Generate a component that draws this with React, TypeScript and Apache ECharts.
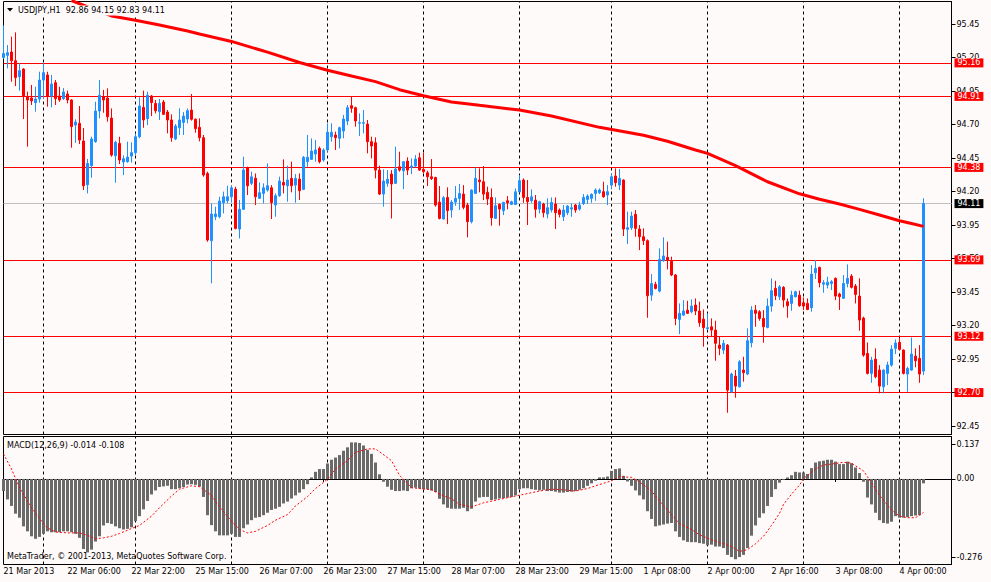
import React, { useEffect, useRef } from "react";
import * as echarts from "echarts";

// ---------- data ----------
const SYMBOL = "USDJPY,H1";
const YEAR = "2013";
const COPYRIGHT = "MetaTrader, © 2001-2013, MetaQuotes Software Corp.";
const MACD_PARAMS = "12,26,9";

// trading sessions: [day, first hour, last hour] (last day padded with empty future bars)
const SESSIONS: [string, number, number][] = [
  ["21 Mar", 14, 23], ["22 Mar", 0, 22], ["25 Mar", 0, 23], ["26 Mar", 0, 23],
  ["27 Mar", 0, 23], ["28 Mar", 0, 23], ["29 Mar", 0, 22], ["1 Apr", 0, 23],
  ["2 Apr", 0, 23], ["3 Apr", 0, 23], ["4 Apr", 0, 13],
];

// [open, high, low, close]
const CANDLES: [number, number, number, number][] = [
  [95.20,95.44,95.19,95.23],[95.216,95.293,95.119,95.236],[95.241,95.356,95.02,95.176],[95.176,95.388,94.987,95.05],[95.057,95.157,94.953,95.102],
  [95.114,95.12,94.741,94.913],[94.908,94.945,94.535,94.883],[94.898,94.995,94.846,94.876],[94.863,94.982,94.796,94.89],[94.89,95.094,94.863,95.032],
  [95.032,95.162,94.895,95.087],[95.07,95.094,94.833,94.913],[94.913,95.07,94.828,95.002],[95.012,95.032,94.846,94.893],[94.913,94.982,94.87,94.883],
  [94.893,94.972,94.883,94.943],[94.928,94.953,94.858,94.883],[94.883,94.888,94.527,94.684],[94.696,94.739,94.564,94.719],[94.709,94.838,94.554,94.584],
  [94.577,94.674,94.211,94.243],[94.251,94.443,94.186,94.41],[94.393,94.609,94.303,94.592],[94.572,94.87,94.564,94.801],[94.801,95.032,94.746,94.918],
  [94.908,94.958,94.788,94.883],[94.898,94.97,94.721,94.758],[94.748,94.82,94.46,94.472],[94.467,94.579,94.266,94.567],[94.559,94.609,94.405,94.435],
  [94.42,94.47,94.323,94.445],[94.423,94.572,94.415,94.457],[94.465,94.567,94.415,94.49],[94.49,94.634,94.472,94.609],[94.609,94.903,94.597,94.838],
  [94.828,94.953,94.676,94.734],[94.744,94.945,94.696,94.918],[94.913,94.92,94.763,94.863],[94.858,94.883,94.783,94.803],[94.796,94.89,94.734,94.858],
  [94.868,94.883,94.771,94.776],[94.793,94.808,94.634,94.734],[94.734,94.776,94.572,94.602],[94.592,94.704,94.584,94.689],[94.676,94.821,94.622,94.734],
  [94.716,94.793,94.622,94.763],[94.741,94.82,94.709,94.803],[94.808,94.928,94.729,94.739],[94.739,94.746,94.639,94.669],[94.679,94.746,94.574,94.602],
  [94.602,94.622,94.31,94.323],[94.335,94.348,93.825,93.838],[93.833,94.112,93.515,94.032],[94.012,94.087,93.987,94.032],[94.012,94.161,94.0,94.129],
  [94.117,94.199,94.037,94.161],[94.131,94.243,94.112,94.161],[94.161,94.241,94.117,94.228],[94.218,94.236,93.917,93.925],[93.92,94.137,93.85,94.067],
  [94.067,94.46,94.062,94.36],[94.38,94.385,94.174,94.243],[94.261,94.348,94.248,94.31],[94.3,94.335,94.099,94.161],[94.149,94.268,94.144,94.191],
  [94.186,94.261,94.112,94.228],[94.211,94.41,94.199,94.243],[94.228,94.248,93.995,94.117],[94.099,94.186,94.012,94.169],[94.169,94.311,94.161,94.278],
  [94.268,94.44,94.186,94.248],[94.243,94.393,94.124,94.286],[94.298,94.423,94.194,94.243],[94.248,94.33,94.117,94.298],[94.293,94.335,94.137,94.206],
  [94.216,94.465,94.211,94.455],[94.423,94.622,94.385,94.455],[94.44,94.597,94.435,94.502],[94.48,94.584,94.423,94.51],[94.522,94.535,94.41,94.423],
  [94.435,94.522,94.423,94.51],[94.51,94.709,94.497,94.642],[94.609,94.709,94.572,94.642],[94.622,94.647,94.51,94.602],[94.597,94.684,94.522,94.676],
  [94.651,94.771,94.597,94.741],[94.726,94.846,94.696,94.826],[94.841,94.908,94.788,94.821],[94.826,94.833,94.684,94.726],[94.71,94.783,94.614,94.714],
  [94.71,94.808,94.634,94.714],[94.704,94.734,94.485,94.572],[94.572,94.609,94.447,94.54],[94.564,94.604,94.298,94.36],[94.36,94.393,94.174,94.181],
  [94.181,94.365,94.087,94.278],[94.261,94.36,94.236,94.291],[94.33,94.36,93.999,94.256],[94.261,94.535,94.256,94.368],[94.385,94.497,94.348,94.36],
  [94.355,94.427,94.218,94.422],[94.427,94.455,94.323,94.36],[94.38,94.447,94.33,94.39],[94.39,94.472,94.38,94.442],[94.452,94.49,94.355,94.36],
  [94.365,94.49,94.335,94.348],[94.34,94.355,94.241,94.31],[94.31,94.442,94.286,94.296],[94.305,94.31,94.087,94.099],[94.121,94.241,93.992,93.999],
  [93.995,94.166,93.992,94.154],[94.156,94.231,93.957,94.057],[94.062,94.136,94.005,94.121],[94.121,94.241,94.094,94.149],[94.149,94.256,94.062,94.186],
  [94.181,94.248,94.067,94.082],[94.099,94.116,93.858,93.975],[93.975,94.216,93.962,94.211],[94.186,94.38,94.181,94.298],[94.286,94.373,94.194,94.273],
  [94.273,94.39,94.136,94.181],[94.194,94.236,94.099,94.144],[94.156,94.223,93.945,94.004],[94.0,94.156,93.997,94.094],[94.104,94.111,93.945,94.069],
  [94.057,94.124,94.024,94.119],[94.131,94.166,94.067,94.116],[94.104,94.131,94.099,94.124],[94.104,94.223,94.099,94.198],[94.198,94.323,94.194,94.281],
  [94.286,94.298,94.116,94.156],[94.156,94.286,93.95,94.124],[94.131,94.216,94.116,94.161],[94.136,94.174,94.005,94.067],[94.069,94.131,94.037,94.124],
  [94.107,94.116,94.007,94.042],[94.032,94.149,94.0,94.079],[94.062,94.156,94.044,94.119],[94.107,94.156,93.92,94.042],[94.062,94.074,94.007,94.03],
  [94.012,94.099,93.98,94.062],[94.042,94.099,94.024,94.092],[94.069,94.111,94.012,94.079],[94.099,94.107,94.042,94.062],[94.069,94.124,94.057,94.099],
  [94.111,94.181,94.099,94.156],[94.141,94.179,94.107,94.166],[94.149,94.186,94.116,94.179],[94.186,94.223,94.131,94.211],[94.191,94.223,94.181,94.211],
  [94.199,94.273,94.154,94.161],[94.174,94.248,94.099,94.199],[94.248,94.335,94.216,94.31],[94.316,94.373,94.236,94.266],[94.248,94.368,94.211,94.298],
  [94.286,94.291,93.868,93.92],[93.918,94.05,93.808,93.93],[93.93,94.05,93.913,94.017],[94.03,94.062,93.863,93.925],[93.92,93.95,93.763,93.863],
  [93.863,93.925,93.801,93.833],[93.833,93.843,93.258,93.422],[93.427,93.584,93.385,93.514],[93.507,93.527,93.47,93.477],[93.457,93.776,93.447,93.694],
  [93.684,93.858,93.676,93.719],[93.709,93.826,93.619,93.689],[93.681,93.714,93.569,93.577],[93.577,93.584,93.203,93.253],[93.246,93.365,93.136,93.291],
  [93.278,93.39,93.271,93.308],[93.315,93.385,93.286,93.291],[93.303,93.395,93.291,93.345],[93.353,93.402,93.278,93.308],[93.308,93.378,93.191,93.221],
  [93.248,93.32,93.042,93.184],[93.176,93.291,93.166,93.184],[93.191,93.253,93.116,93.166],[93.166,93.236,92.937,93.067],[93.054,93.116,92.979,93.03],
  [93.017,93.092,92.987,93.067],[93.054,93.062,92.549,92.718],[92.706,92.848,92.699,92.838],[92.823,92.868,92.661,92.748],[92.743,92.942,92.738,92.93],
  [92.868,92.967,92.781,92.848],[92.838,93.179,92.83,93.087],[93.072,93.345,93.037,93.315],[93.315,93.353,93.191,93.291],[93.303,93.315,93.236,93.253],
  [93.253,93.315,93.072,93.191],[93.186,93.402,93.179,93.345],[93.345,93.552,93.303,93.46],[93.477,93.534,93.39,93.422],[93.415,93.502,93.39,93.489],
  [93.485,93.494,93.335,93.39],[93.378,93.402,93.258,93.348],[93.365,93.46,93.31,93.427],[93.415,93.46,93.41,93.452],[93.427,93.46,93.34,93.348],
  [93.37,93.41,93.315,93.345],[93.365,93.402,93.315,93.32],[93.333,93.651,93.303,93.584],[93.594,93.689,93.547,93.626],[93.634,93.639,93.485,93.52],
  [93.509,93.539,93.445,93.52],[93.502,93.564,93.477,93.524],[93.514,93.539,93.465,93.527],[93.552,93.559,93.39,93.42],[93.435,93.445,93.316,93.415],
  [93.403,93.577,93.398,93.514],[93.514,93.656,93.485,93.552],[93.569,93.584,93.477,93.485],[93.495,93.51,93.365,93.432],[93.42,93.552,93.161,93.241],
  [93.256,93.266,92.967,92.979],[92.992,93.074,92.835,92.843],[92.843,92.967,92.773,92.942],[92.95,93.03,92.806,92.818],[92.868,92.905,92.694,92.748],
  [92.743,92.873,92.694,92.868],[92.843,92.93,92.756,92.905],[92.905,93.054,92.893,93.024],[93.03,93.097,92.987,93.07],[93.074,93.104,93.017,93.022],
  [93.017,93.022,92.835,92.843],[92.838,92.893,92.706,92.88],[92.868,93.111,92.863,92.987],[92.972,93.03,92.888,92.937],[92.955,93.054,92.773,92.838],
  [92.86,94.15,92.83,94.11],
];

// moving average: [bar index, value]
const MA_POINTS: [number, number][] = [
  [17, 95.625], [20, 95.59], [27, 95.51], [33, 95.478], [39, 95.443], [46, 95.398], [49, 95.375],
  [57, 95.32], [66, 95.24], [74, 95.163], [81, 95.105], [87, 95.062], [93, 95.02], [99, 94.96],
  [105, 94.915], [112, 94.868], [119, 94.843], [129, 94.808], [137, 94.763], [149, 94.679],
  [160, 94.62], [166, 94.575], [173, 94.51], [176, 94.485], [183, 94.393], [191, 94.273],
  [199, 94.183], [204, 94.142], [209, 94.107], [214, 94.067], [219, 94.025], [224, 93.982],
  [227, 93.962], [230, 93.94],
];

const H_LINES = [95.16, 94.91, 94.38, 93.69, 93.12, 92.70];
const BID_LINE = 94.11;
const PRICE_TICKS = [92.45, 92.70, 92.95, 93.20, 93.45, 93.70, 93.95, 94.20, 94.45, 94.70, 94.95, 95.20, 95.45];
const PRICE_MIN = 92.387;
const PRICE_MAX = 95.618;

const MACD_HIST = [
  -0.039,-0.066,-0.087,-0.112,-0.125,-0.153,-0.169,-0.185,-0.193,-0.187,
  -0.177,-0.169,-0.172,-0.172,-0.172,-0.169,-0.169,-0.172,-0.177,-0.190,
  -0.226,-0.237,-0.228,-0.202,-0.185,-0.150,-0.142,-0.145,-0.153,-0.159,
  -0.163,-0.161,-0.156,-0.136,-0.120,-0.098,-0.071,-0.050,-0.037,-0.026,
  -0.024,-0.022,-0.033,-0.033,-0.030,-0.026,-0.018,-0.017,-0.019,-0.025,
  -0.058,-0.117,-0.149,-0.169,-0.182,-0.182,-0.182,-0.177,-0.187,-0.187,
  -0.159,-0.147,-0.133,-0.125,-0.123,-0.117,-0.109,-0.100,-0.096,-0.090,
  -0.079,-0.073,-0.063,-0.053,-0.044,-0.033,-0.017,0.005,0.023,0.032,
  0.032,0.050,0.062,0.069,0.077,0.091,0.102,0.118,0.118,0.116,
  0.108,0.094,0.081,0.053,0.015,-0.009,-0.025,-0.035,-0.039,-0.039,
  -0.037,-0.039,-0.030,-0.028,-0.031,-0.033,-0.033,-0.037,-0.042,-0.064,
  -0.082,-0.093,-0.096,-0.096,-0.096,-0.093,-0.104,-0.096,-0.073,-0.060,
  -0.058,-0.058,-0.068,-0.066,-0.063,-0.062,-0.060,-0.058,-0.053,-0.033,
  -0.030,-0.030,-0.033,-0.035,-0.037,-0.035,-0.039,-0.039,-0.041,-0.044,
  -0.044,-0.042,-0.041,-0.039,-0.035,-0.030,-0.022,-0.014,-0.006,0.005,
  0.005,0.008,0.026,0.032,0.034,0.010,-0.008,-0.022,-0.037,-0.053,
  -0.066,-0.104,-0.129,-0.153,-0.150,-0.147,-0.144,-0.142,-0.169,-0.187,
  -0.198,-0.203,-0.204,-0.204,-0.207,-0.209,-0.214,-0.212,-0.218,-0.218,
  -0.223,-0.245,-0.252,-0.259,-0.252,-0.245,-0.223,-0.183,-0.150,-0.125,
  -0.111,-0.087,-0.058,-0.033,-0.012,-0.003,0.005,0.012,0.023,0.021,
  0.021,0.016,0.035,0.053,0.057,0.059,0.062,0.062,0.056,0.048,
  0.048,0.056,0.051,0.037,0.019,-0.009,-0.060,-0.082,-0.109,-0.133,
  -0.142,-0.144,-0.138,-0.120,-0.125,-0.125,-0.123,-0.120,-0.118,-0.117,
  -0.014,
];

// signal line: [bar index, value]
const MACD_SIGNAL: [number, number][] = [
  [0,0.081],[2,0.032],[4,-0.028],[6,-0.071],[8,-0.111],[10,-0.144],[11,-0.158],[13,-0.171],
  [16,-0.174],[19,-0.174],[21,-0.182],[23,-0.193],[25,-0.190],[27,-0.185],[29,-0.176],
  [32,-0.160],[34,-0.150],[37,-0.120],[39,-0.093],[42,-0.055],[44,-0.033],[47,-0.022],
  [49,-0.025],[52,-0.053],[54,-0.090],[57,-0.136],[59,-0.163],[61,-0.174],[63,-0.169],
  [66,-0.150],[68,-0.133],[71,-0.115],[73,-0.087],[76,-0.057],[78,-0.031],[81,-0.001],
  [83,0.032],[86,0.059],[88,0.086],[91,0.097],[93,0.097],[94,0.088],[97,0.059],[99,0.012],
  [102,-0.028],[104,-0.031],[107,-0.035],[109,-0.049],[112,-0.064],[114,-0.082],[117,-0.090],
  [120,-0.077],[124,-0.066],[128,-0.055],[131,-0.047],[134,-0.039],[137,-0.033],[140,-0.035],
  [143,-0.039],[146,-0.031],[148,-0.022],[152,-0.006],[154,0.008],[157,0.005],[159,-0.009],
  [162,-0.039],[164,-0.071],[167,-0.115],[169,-0.144],[172,-0.163],[174,-0.180],[177,-0.196],
  [179,-0.205],[182,-0.218],[184,-0.234],[186,-0.228],[188,-0.209],[190,-0.185],[192,-0.150],
  [194,-0.111],[195,-0.082],[197,-0.049],[199,-0.020],[200,0.001],[203,0.032],[205,0.045],
  [207,0.048],[210,0.054],[212,0.051],[215,0.026],[217,-0.012],[219,-0.053],[222,-0.100],
  [224,-0.120],[226,-0.125],[228,-0.125],[230,-0.108],
];
const MACD_MIN = -0.276;
const MACD_MAX = 0.137;

// ---------- derived ----------
const CATEGORIES: string[] = [];
const HOURS: number[] = [];
SESSIONS.forEach(([day, h0, h1]) => {
  for (let h = h0; h <= h1; h++) {
    CATEGORIES.push(`${day} ${String(h).padStart(2, "0")}:00`);
    HOURS.push(h);
  }
});
const DAY_STARTS = CATEGORIES.filter((_, i) => i > 0 && HOURS[i] === 0);
const LABEL_EVERY = 16;

const FONT = "DejaVu Sans";
const FS = 8;
const BG = "#FFFAFA";
const BULL = "#1E90FF";
const BEAR = "#FF0000";

const last = CANDLES[CANDLES.length - 1];
const titleText = `${SYMBOL}  ${last[0].toFixed(2)} ${last[1].toFixed(2)} ${last[2].toFixed(2)} ${last[3].toFixed(2)}`;
const macdText = `MACD(${MACD_PARAMS}) ${MACD_HIST[MACD_HIST.length - 1].toFixed(3)} ${MACD_SIGNAL[MACD_SIGNAL.length - 1][1].toFixed(3)}`;

const GRID_LEFT = 3.5;
const GRID_W = 948;
const MAIN_TOP = 1.5;
const MAIN_H = 433;
const MACD_TOP = 436.5;
const MACD_H = 128;
const MACD_INSET = ((MACD_MAX - MACD_MIN) * 7.5) / MACD_H;
const MACD_TICKS = [MACD_MAX - MACD_INSET, 0, MACD_MIN + MACD_INSET];

const vLines = DAY_STARTS.map((c) => ({
  xAxis: c,
  lineStyle: { color: "#000", width: 1, type: [3, 3] as any },
  label: { show: false },
}));

const priceLabel = (bg: string) => ({
  show: true,
  position: "end" as const,
  formatter: (p: any) => Number(p.value).toFixed(2),
  color: "#FFFFFF",
  backgroundColor: bg,
  padding: [1, 3, 0, 3],
  fontFamily: FONT,
  fontSize: FS,
  distance: 3,
});

const hLines = [
  ...H_LINES.map((v) => ({
    yAxis: v,
    lineStyle: { color: "#FF0000", width: 1, type: "solid" as const },
    label: priceLabel("#FF0000"),
  })),
  {
    yAxis: BID_LINE,
    lineStyle: { color: "#C0C0C0", width: 1, type: "solid" as const },
    label: priceLabel("#000000"),
  },
];

const option: any = {
  animation: false,
  backgroundColor: BG,
  textStyle: { fontFamily: FONT },
  grid: [
    { left: GRID_LEFT, top: MAIN_TOP, width: GRID_W, height: MAIN_H, show: true, borderColor: "#000", borderWidth: 1, backgroundColor: BG },
    { left: GRID_LEFT, top: MACD_TOP, width: GRID_W, height: MACD_H, show: true, borderColor: "#000", borderWidth: 1, backgroundColor: BG },
  ],
  xAxis: [
    {
      type: "category", gridIndex: 0, data: CATEGORIES, boundaryGap: false,
      axisLine: { show: false }, axisTick: { show: false }, axisLabel: { show: false }, splitLine: { show: false },
    },
    {
      type: "category", gridIndex: 1, data: CATEGORIES, boundaryGap: false,
      axisLine: { show: true, lineStyle: { color: "#000", width: 1 } },
      axisTick: { show: true, length: 3, interval: (i: number) => i % LABEL_EVERY === 0, lineStyle: { color: "#000" } },
      axisLabel: {
        show: true,
        interval: (i: number) => i % LABEL_EVERY === 0,
        formatter: (v: string, i: number) => (i === 0 ? `${v.split(" ").slice(0, 2).join(" ")} ${YEAR}` : v),
        align: "left",
        margin: 3,
        color: "#000",
        fontFamily: FONT,
        fontSize: FS,
      },
      splitLine: { show: false },
    },
  ],
  yAxis: [
    {
      type: "value", gridIndex: 0, position: "right", min: PRICE_MIN, max: PRICE_MAX,
      splitLine: { show: false },
      axisLine: { show: true, lineStyle: { color: "#000", width: 1 } },
      axisTick: { show: true, length: 4, customValues: PRICE_TICKS, lineStyle: { color: "#000" } },
      axisLabel: {
        customValues: PRICE_TICKS,
        formatter: (v: number) => v.toFixed(2),
        margin: 5, color: "#000", fontFamily: FONT, fontSize: FS,
      },
    },
    {
      type: "value", gridIndex: 1, position: "right", min: MACD_MIN, max: MACD_MAX,
      splitLine: { show: false },
      axisLine: { show: true, lineStyle: { color: "#000", width: 1 } },
      axisTick: { show: true, length: 4, customValues: MACD_TICKS, lineStyle: { color: "#000" } },
      axisLabel: {
        customValues: MACD_TICKS,
        formatter: (v: number) => (v > 0.05 ? MACD_MAX.toFixed(3) : v < -0.05 ? MACD_MIN.toFixed(3) : "0.00"),
        margin: 5, color: "#000", fontFamily: FONT, fontSize: FS,
      },
    },
  ],
  series: [
    {
      type: "candlestick",
      xAxisIndex: 0, yAxisIndex: 0,
      barWidth: 2,
      z: 3,
      silent: true,
      itemStyle: { color: BULL, color0: BEAR, borderColor: BULL, borderColor0: BEAR, borderWidth: 1 },
      data: CANDLES.map(([o, h, l, c]) => [o, c, l, h]),
      markLine: {
        silent: true, symbol: ["none", "none"], z: 1, animation: false,
        data: [...vLines, ...hLines],
      },
    },
    {
      type: "line",
      xAxisIndex: 0, yAxisIndex: 0,
      data: MA_POINTS.map(([i, v]) => [CATEGORIES[i], v]),
      symbol: "none", silent: true, z: 4,
      lineStyle: { color: "#FF0000", width: 3 },
    },
    {
      type: "bar",
      xAxisIndex: 1, yAxisIndex: 1,
      data: MACD_HIST,
      barWidth: 3, silent: true,
      itemStyle: { color: "#6A6A6A" },
      markLine: {
        silent: true, symbol: ["none", "none"], z: 1, animation: false,
        data: vLines,
      },
    },
    {
      type: "line",
      xAxisIndex: 1, yAxisIndex: 1,
      data: MACD_SIGNAL.map(([i, v]) => [CATEGORIES[i], v]),
      symbol: "none", silent: true, z: 4,
      lineStyle: { color: "#FF0000", width: 1, type: [2, 2] },
    },
  ],
  graphic: [
    { type: "polygon", shape: { points: [[7, 8], [13, 8], [10, 11.5]] }, style: { fill: "#000" }, z: 100 },
    {
      type: "text", x: 17, y: 10.5, z: 100,
      style: { text: titleText, font: `${FS}px "${FONT}"`, fill: "#000", verticalAlign: "middle", backgroundColor: BG, padding: [1, 1, 1, 1] },
    },
    {
      type: "text", x: 7, y: 445, z: 100,
      style: { text: macdText, font: `${FS}px "${FONT}"`, fill: "#000", verticalAlign: "middle" },
    },
    {
      type: "text", x: 7, y: 556, z: 100,
      style: { text: COPYRIGHT, font: `${FS}px "${FONT}"`, fill: "#000", verticalAlign: "middle" },
    },
  ],
};

export default function App() {
  const ref = useRef<HTMLDivElement>(null);
  useEffect(() => {
    if (!ref.current) return;
    const chart = echarts.init(ref.current, null, { renderer: "svg" });
    chart.setOption(option);
    return () => chart.dispose();
  }, []);
  return (
    <div
      ref={ref}
      style={{ position: "fixed", left: 0, top: 0, width: 991, height: 582, background: BG }}
    />
  );
}
